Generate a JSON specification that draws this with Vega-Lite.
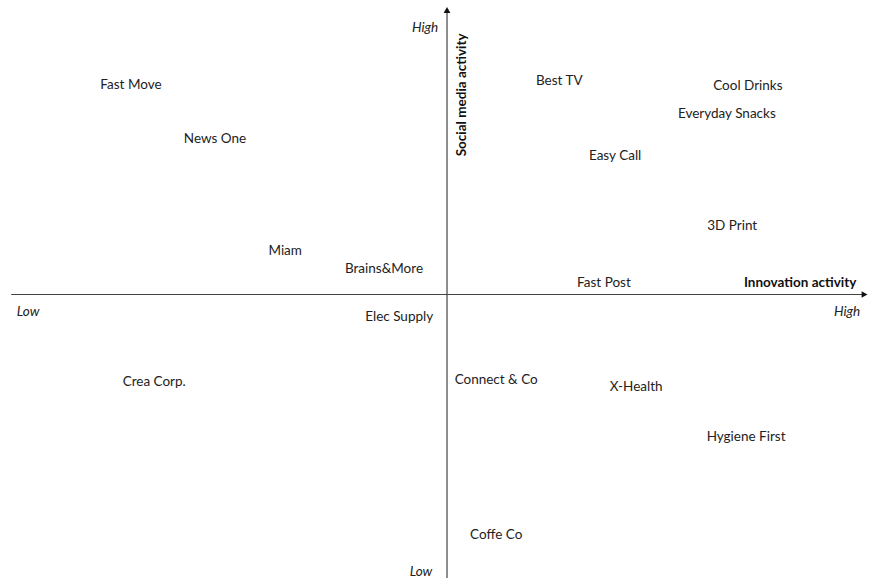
{
  "$schema": "https://vega.github.io/schema/vega-lite/v6.json",
  "width": 869,
  "height": 579,
  "padding": 0,
  "autosize": {"type": "fit", "contains": "padding"},
  "background": "white",
  "config": {"view": {"stroke": null}},
  "datasets": {
    "brands": [
      {"name": "Fast Move", "innovation": -70.7, "social": 71.9},
      {"name": "News One", "innovation": -51.9, "social": 53.6},
      {"name": "Miam", "innovation": -36.2, "social": 15.6},
      {"name": "Brains&More", "innovation": -14.1, "social": 9.5},
      {"name": "Elec Supply", "innovation": -10.7, "social": -7.1},
      {"name": "Crea Corp.", "innovation": -65.5, "social": -29.2},
      {"name": "Best TV", "innovation": 25.1, "social": 73.2},
      {"name": "Cool Drinks", "innovation": 67.3, "social": 71.5},
      {"name": "Everyday Snacks", "innovation": 62.6, "social": 62.0},
      {"name": "Easy Call", "innovation": 37.6, "social": 47.8},
      {"name": "3D Print", "innovation": 63.8, "social": 24.1},
      {"name": "Fast Post", "innovation": 35.1, "social": 4.7},
      {"name": "Connect & Co", "innovation": 11.0, "social": -28.5},
      {"name": "X-Health", "innovation": 42.3, "social": -30.8},
      {"name": "Hygiene First", "innovation": 66.9, "social": -47.8},
      {"name": "Coffe Co", "innovation": 11.0, "social": -81.0}
    ],
    "axes": [
      {"x1": -97.5, "x2": 93.0, "y1": 0, "y2": 0},
      {"x1": 0, "x2": 0, "y1": -96.3, "y2": 96.0}
    ],
    "arrows": [
      {"x": 93.4, "y": 0, "shape": "triangle-right"},
      {"x": 0, "y": 96.6, "shape": "triangle-up"}
    ],
    "ends": [
      {"label": "Low", "x": -93.7, "y": -5.4},
      {"label": "High", "x": 89.5, "y": -5.4},
      {"label": "High", "x": -4.9, "y": 91.2},
      {"label": "Low", "x": -5.8, "y": -93.6}
    ],
    "titles": [
      {"label": "Innovation activity", "x": 79.0, "y": 4.7}
    ],
    "vtitles": [
      {"label": "Social media activity", "x": 3.4, "y": 67.8}
    ]
  },
  "layer": [
    {
      "data": {"name": "axes"},
      "mark": {"type": "rule", "color": "#444", "strokeWidth": 1.2},
      "encoding": {
        "x": {"field": "x1", "type": "quantitative", "scale": {"domain": [-100, 94.4], "nice": false, "zero": false}, "axis": null},
        "x2": {"field": "x2"},
        "y": {"field": "y1", "type": "quantitative", "scale": {"domain": [-96.27, 100], "nice": false, "zero": false}, "axis": null},
        "y2": {"field": "y2"}
      }
    },
    {
      "data": {"name": "arrows"},
      "mark": {"type": "point", "filled": true, "color": "#111", "size": 45, "opacity": 1},
      "encoding": {
        "x": {"field": "x", "type": "quantitative", "scale": {"domain": [-100, 94.4], "nice": false, "zero": false}, "axis": null},
        "y": {"field": "y", "type": "quantitative", "scale": {"domain": [-96.27, 100], "nice": false, "zero": false}, "axis": null},
        "shape": {"field": "shape", "type": "nominal", "scale": null, "legend": null}
      }
    },
    {
      "data": {"name": "brands"},
      "mark": {"type": "text", "font": "Lato", "fontSize": 13.5, "color": "#222", "align": "center", "baseline": "middle", "dy": 2},
      "encoding": {
        "x": {"field": "innovation", "type": "quantitative", "scale": {"domain": [-100, 94.4], "nice": false, "zero": false}, "axis": null},
        "y": {"field": "social", "type": "quantitative", "scale": {"domain": [-96.27, 100], "nice": false, "zero": false}, "axis": null},
        "text": {"field": "name"}
      }
    },
    {
      "data": {"name": "ends"},
      "mark": {"type": "text", "font": "Lato", "fontSize": 13.5, "fontStyle": "italic", "color": "#222", "align": "center", "baseline": "middle", "dy": 2},
      "encoding": {
        "x": {"field": "x", "type": "quantitative", "scale": {"domain": [-100, 94.4], "nice": false, "zero": false}, "axis": null},
        "y": {"field": "y", "type": "quantitative", "scale": {"domain": [-96.27, 100], "nice": false, "zero": false}, "axis": null},
        "text": {"field": "label"}
      }
    },
    {
      "data": {"name": "titles"},
      "mark": {"type": "text", "font": "Lato", "fontSize": 13.5, "fontWeight": "bold", "color": "#111", "align": "center", "baseline": "middle", "dy": 2},
      "encoding": {
        "x": {"field": "x", "type": "quantitative", "scale": {"domain": [-100, 94.4], "nice": false, "zero": false}, "axis": null},
        "y": {"field": "y", "type": "quantitative", "scale": {"domain": [-96.27, 100], "nice": false, "zero": false}, "axis": null},
        "text": {"field": "label"}
      }
    },
    {
      "data": {"name": "vtitles"},
      "mark": {"type": "text", "font": "Lato", "fontSize": 13.5, "fontWeight": "bold", "color": "#111", "align": "center", "baseline": "middle", "angle": 270},
      "encoding": {
        "x": {"field": "x", "type": "quantitative", "scale": {"domain": [-100, 94.4], "nice": false, "zero": false}, "axis": null},
        "y": {"field": "y", "type": "quantitative", "scale": {"domain": [-96.27, 100], "nice": false, "zero": false}, "axis": null},
        "text": {"field": "label"}
      }
    }
  ]
}
